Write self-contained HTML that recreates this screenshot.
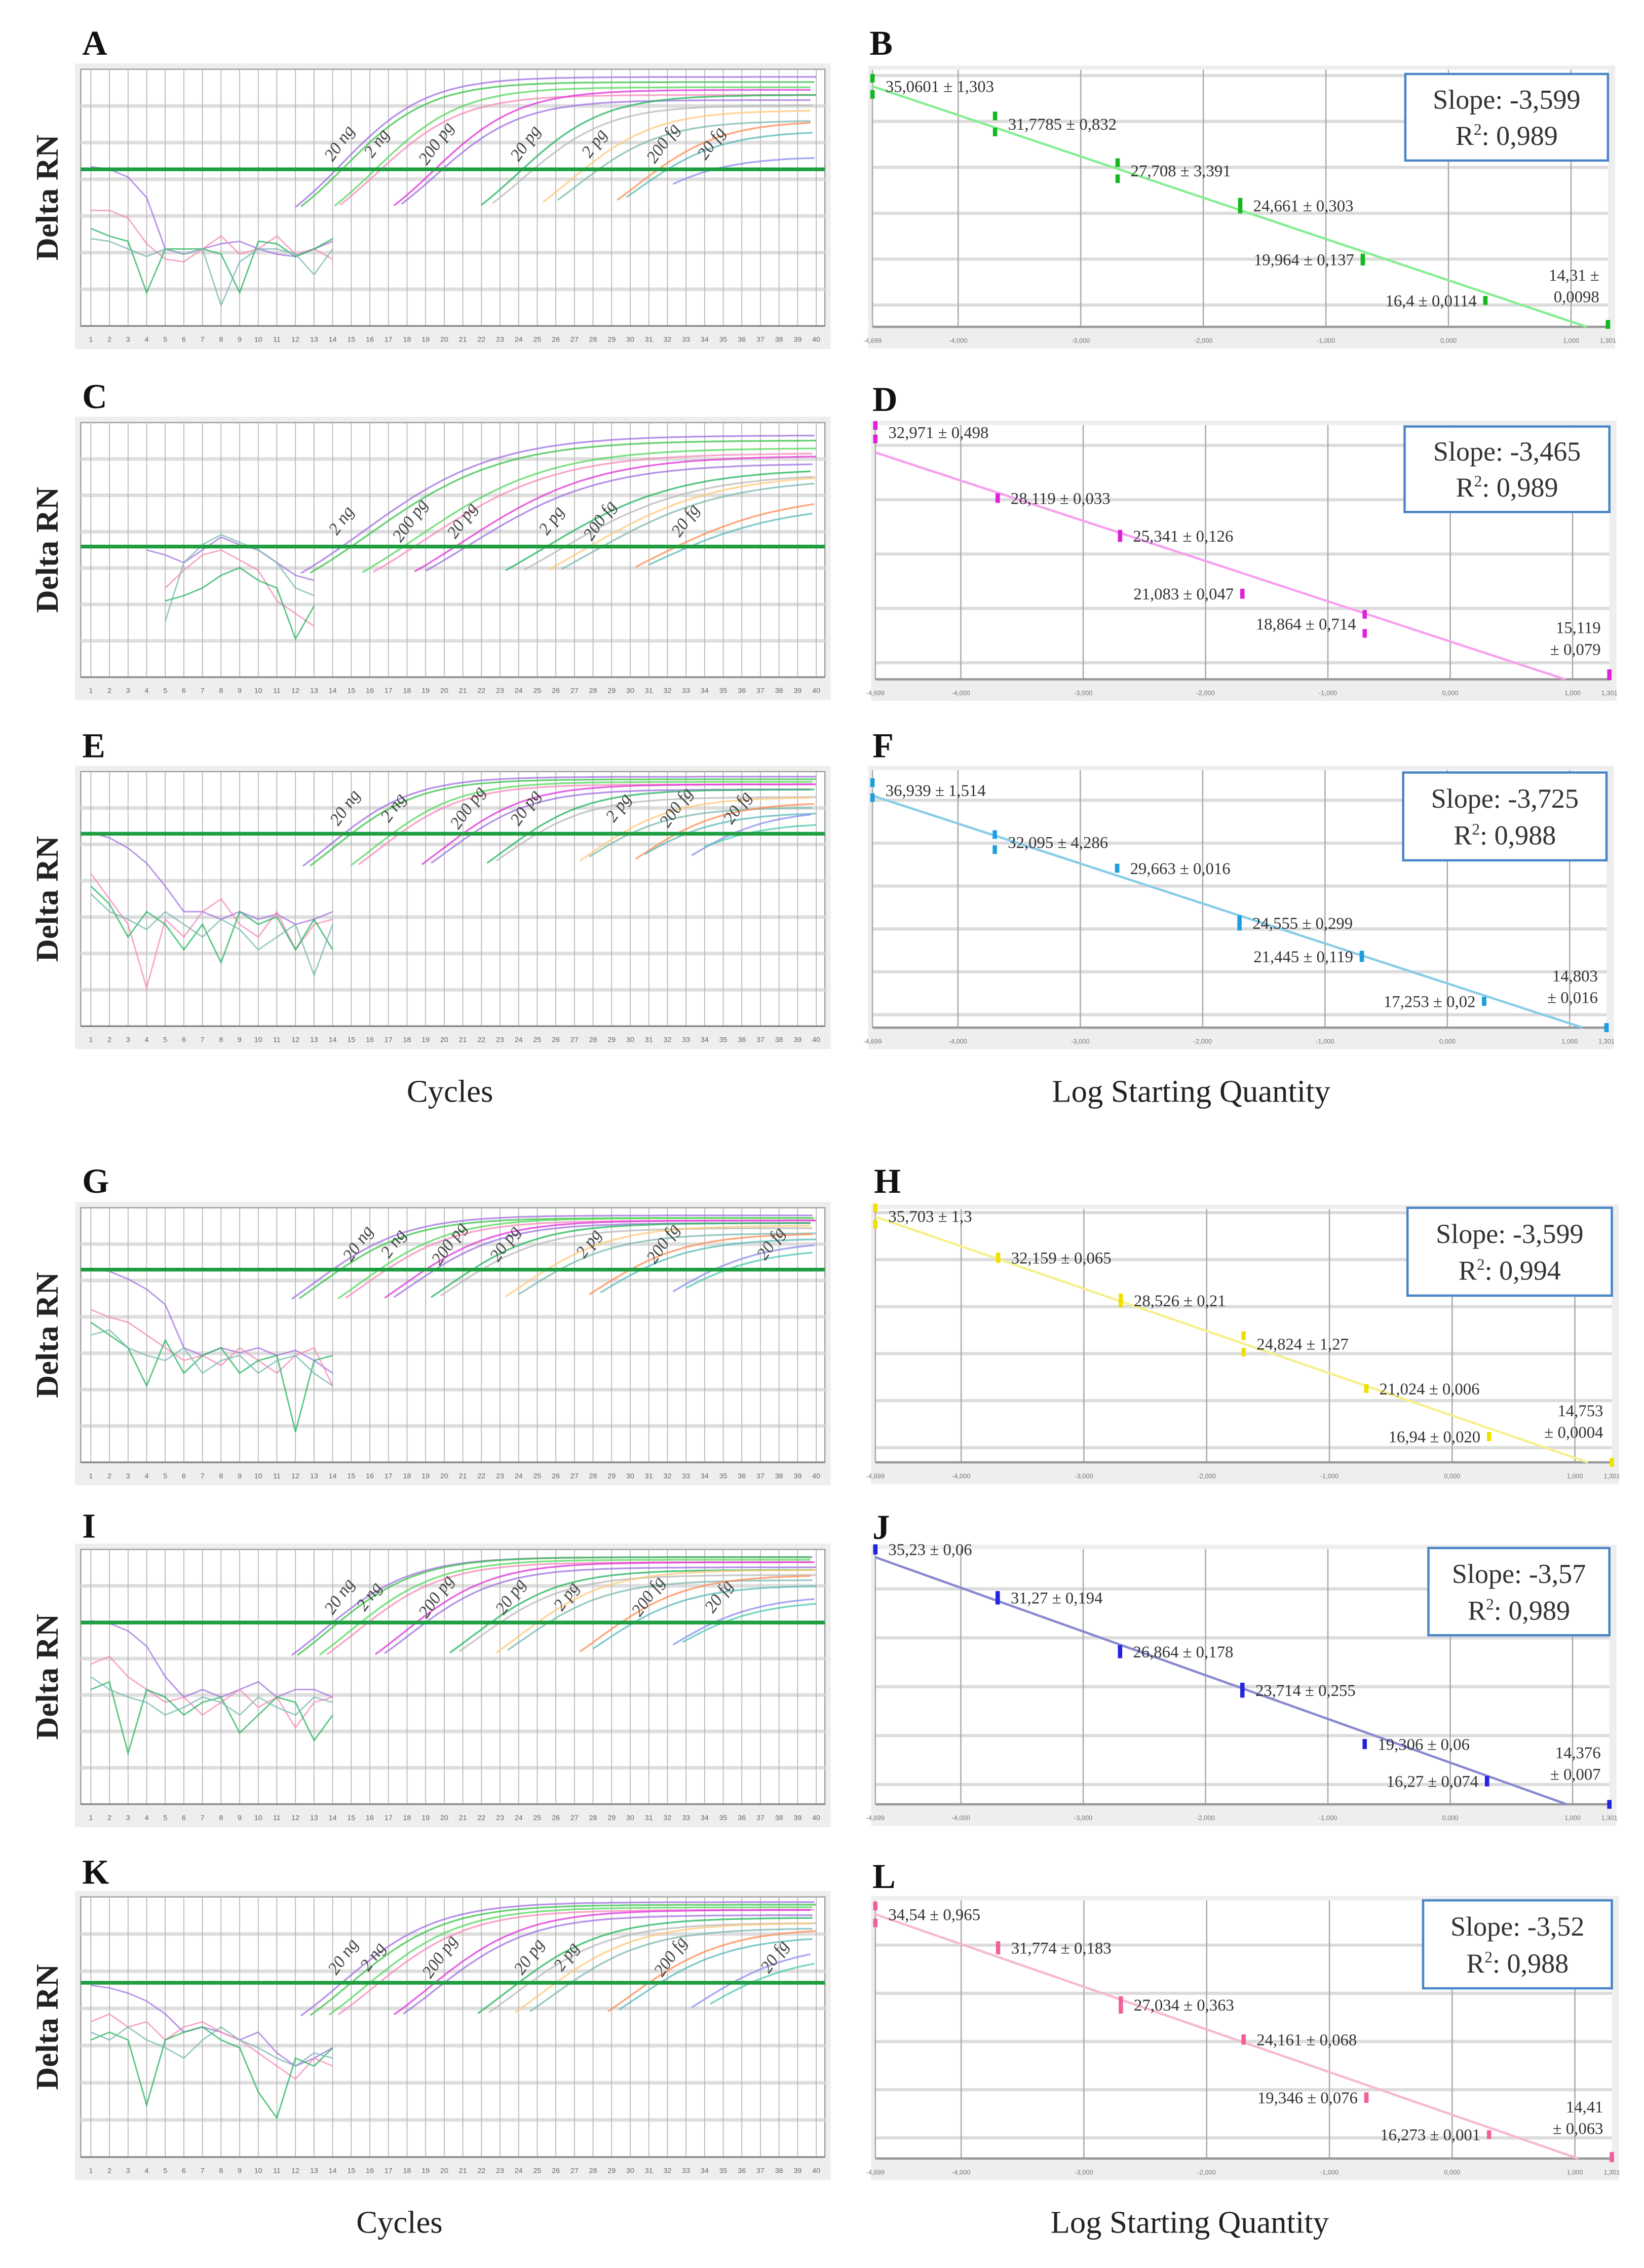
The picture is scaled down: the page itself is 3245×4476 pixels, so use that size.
<!DOCTYPE html>
<html><head><meta charset="utf-8"><style>
html,body{margin:0;padding:0;background:#fff}
svg{display:block}
</style></head><body>
<svg id="fig" xmlns="http://www.w3.org/2000/svg" width="3245" height="4476" viewBox="0 0 1140 1572.5" preserveAspectRatio="none" font-family="Liberation Serif, serif"></svg>
<script>
// ---------- amplification plot data (relative fluorescence 0..1, cycles 1..40) ----------
const dilutionLabels = ["20 ng","2 ng","200 pg","20 pg","2 pg","200 fg","20 fg"];
const A_ct = [14.2,14.5,16.3,16.6,19.5,19.9,24.2,24.8,27.5,28.3,31.5,32,34.5,35.5];
const A_plat = [0.97,0.95,0.93,0.9,0.92,0.88,0.9,0.86,0.84,0.8,0.8,0.76,0.66,0.6];
const A_labelCt = [14.6,16.6,19.8,24.6,28.3,32,34.6];
const A_base = [[0.62,0.61,0.58,0.5,0.3,0.28,0.3,0.32,0.33,0.3,0.28,0.27,0.3,0.33],[0.45,0.45,0.42,0.32,0.26,0.25,0.3,0.35,0.28,0.3,0.35,0.28,0.3,0.26],[0.38,0.35,0.33,0.13,0.3,0.3,0.3,0.28,0.13,0.33,0.32,0.27,0.3,0.34],[0.34,0.33,0.3,0.27,0.3,0.28,0.3,0.08,0.25,0.3,0.3,0.28,0.2,0.3]];

const C_ct = [14.5,15,17.8,18.4,20.6,21.2,25.5,26.5,27.8,28.5,32.5,33.2];
const C_plat = [0.95,0.93,0.9,0.88,0.87,0.84,0.82,0.8,0.8,0.78,0.72,0.68];
const C_labelCt = [null,14.7,18.4,21.2,26,28.6,33.2];
const C_base = [[null,null,null,0.5,0.48,0.45,0.5,0.55,0.52,0.5,0.45,0.4,0.38],[null,null,null,null,0.35,0.42,0.48,0.5,0.46,0.42,0.3,0.25,0.2],[null,null,null,null,0.3,0.32,0.35,0.4,0.43,0.38,0.35,0.15,0.28],[null,null,null,null,0.22,0.45,0.52,0.56,0.53,0.5,0.45,0.35,0.32]];

const E_ct = [14.6,15,17.2,17.6,21,21.5,24.5,25,29.5,30,32.5,33,35.5,36.2];
const E_plat = [0.98,0.97,0.96,0.95,0.95,0.93,0.93,0.9,0.9,0.86,0.88,0.84,0.85,0.8];
const E_labelCt = [14.9,17.5,21.5,24.6,29.6,32.7,36];
const E_base = [[0.76,0.74,0.7,0.64,0.55,0.45,0.45,0.42,0.45,0.42,0.44,0.4,0.42,0.45],[0.6,0.5,0.4,0.15,0.42,0.35,0.45,0.5,0.4,0.35,0.45,0.3,0.4,0.42],[0.55,0.48,0.35,0.45,0.4,0.3,0.4,0.25,0.45,0.4,0.43,0.3,0.42,0.3],[0.52,0.45,0.42,0.38,0.45,0.4,0.35,0.42,0.38,0.3,0.35,0.4,0.2,0.4]];

const G_ct = [14,14.4,16.5,16.9,19,19.5,21.5,22,25.5,26.2,30,30.6,34.5,35.2];
const G_plat = [0.97,0.96,0.96,0.95,0.95,0.94,0.94,0.92,0.93,0.9,0.9,0.88,0.87,0.84];
const G_labelCt = [15.6,17.5,20.5,23.5,28,32,37.8];
const G_base = [[0.76,0.75,0.72,0.68,0.62,0.45,0.42,0.45,0.43,0.45,0.42,0.44,0.4,0.35],[0.6,0.57,0.55,0.5,0.45,0.4,0.42,0.38,0.45,0.4,0.35,0.42,0.45,0.3],[0.55,0.5,0.45,0.3,0.48,0.35,0.42,0.45,0.35,0.4,0.42,0.12,0.4,0.42],[0.5,0.52,0.45,0.42,0.4,0.45,0.35,0.4,0.42,0.35,0.4,0.42,0.35,0.3]];

const I_ct = [14,14.3,15.5,15.9,18.5,19,22.5,23,25,25.6,29.5,30.2,34.5,35];
const I_plat = [0.97,0.97,0.96,0.95,0.95,0.93,0.92,0.9,0.92,0.88,0.9,0.86,0.82,0.8];
const I_labelCt = [14.6,16.2,19.8,23.8,26.8,31.2,35];
const I_base = [[0.72,0.71,0.68,0.62,0.5,0.42,0.45,0.42,0.45,0.48,0.42,0.45,0.45,0.42],[0.55,0.58,0.5,0.45,0.4,0.42,0.35,0.4,0.45,0.38,0.42,0.3,0.4,0.42],[0.45,0.48,0.2,0.45,0.42,0.35,0.4,0.42,0.28,0.35,0.42,0.4,0.25,0.35],[0.5,0.45,0.42,0.4,0.35,0.38,0.42,0.4,0.35,0.42,0.38,0.35,0.42,0.4]];

const K_ct = [14.5,15,16,16.5,19.5,20,24,24.6,26,26.8,31,31.6,35.5,36.5];
const K_plat = [0.98,0.97,0.96,0.95,0.95,0.93,0.92,0.9,0.9,0.88,0.88,0.85,0.82,0.78];
const K_labelCt = [14.8,16.4,20,24.8,26.8,32.4,38];
const K_base = [[0.66,0.65,0.63,0.6,0.55,0.48,0.5,0.48,0.45,0.48,0.4,0.35,0.38,0.42],[0.52,0.55,0.5,0.52,0.45,0.5,0.52,0.48,0.45,0.4,0.35,0.3,0.38,0.35],[0.45,0.48,0.45,0.2,0.45,0.48,0.5,0.45,0.42,0.25,0.15,0.38,0.35,0.42],[0.48,0.45,0.5,0.45,0.42,0.38,0.45,0.5,0.45,0.42,0.38,0.35,0.4,0.38]];

const ampColors = ["#a070e0","#39c24a","#52d85a","#f58ab8","#e030d8","#a070e0","#23b45c","#b8b8b8","#ffc878","#7ab8b0","#ff8a50","#58b8b8","#8a8af0","#4cc8b0"];

// ---------- standard curve data (Ct vs log starting quantity) ----------
const logQty = [-4.699,-3.699,-2.699,-1.699,-0.699,0.301,1.301];
const xTickVals = [-4.699,-4,-3,-2,-1,0,1,1.301];
const xTickLabels = ["-4,699","-4,000","-3,000","-2,000","-1,000","0,000","1,000","1,301"];
const B_mean = [35.0601,31.7785,27.708,24.661,19.964,16.4,14.31];
const B_sd = [1.303,0.832,3.391,0.303,0.137,0.0114,0.0098];
const B_text = ["35,0601 ± 1,303","31,7785 ± 0,832","27,708 ± 3,391","24,661 ± 0,303","19,964 ± 0,137","16,4 ± 0,0114","14,31 ±|0,0098"];
const B_side = ["r","r","r","r","l","l","s"];
const D_mean = [32.971,28.119,25.341,21.083,18.864,15.119];
const D_sd = [0.498,0.033,0.126,0.047,0.714,0.079];
const D_x = [-4.699,-3.699,-2.699,-1.699,-0.699,1.301];
const D_text = ["32,971 ± 0,498","28,119 ± 0,033","25,341 ± 0,126","21,083 ± 0,047","18,864 ± 0,714","15,119|± 0,079"];
const D_side = ["r","r","r","l","l","s"];
const F_mean = [36.939,32.095,29.663,24.555,21.445,17.253,14.803];
const F_sd = [1.514,4.286,0.016,0.299,0.119,0.02,0.016];
const F_text = ["36,939 ± 1,514","32,095 ± 4,286","29,663 ± 0,016","24,555 ± 0,299","21,445 ± 0,119","17,253 ± 0,02","14,803|± 0,016"];
const F_side = ["r","r","r","r","l","l","s"];
const H_mean = [35.703,32.159,28.526,24.824,21.024,16.94,14.753];
const H_sd = [1.3,0.065,0.21,1.27,0.006,0.02,0.0004];
const H_text = ["35,703 ± 1,3","32,159 ± 0,065","28,526 ± 0,21","24,824 ± 1,27","21,024 ± 0,006","16,94 ± 0,020","14,753|± 0,0004"];
const H_side = ["r","r","r","r","r","l","s"];
const J_mean = [35.23,31.27,26.864,23.714,19.306,16.27,14.376];
const J_sd = [0.06,0.194,0.178,0.255,0.06,0.074,0.007];
const J_text = ["35,23 ± 0,06","31,27 ± 0,194","26,864 ± 0,178","23,714 ± 0,255","19,306 ± 0,06","16,27 ± 0,074","14,376|± 0,007"];
const J_side = ["r","r","r","r","r","l","s"];
const L_mean = [34.54,31.774,27.034,24.161,19.346,16.273,14.41];
const L_sd = [0.965,0.183,0.363,0.068,0.076,0.001,0.063];
const L_text = ["34,54 ± 0,965","31,774 ± 0,183","27,034 ± 0,363","24,161 ± 0,068","19,346 ± 0,076","16,273 ± 0,001","14,41|± 0,063"];
const L_side = ["r","r","r","r","l","l","s"];
const slopeText = ["-3,599","-3,465","-3,725","-3,599","-3,57","-3,52"];
const r2Text = ["0,989","0,989","0,988","0,994","0,989","0,988"];

// ---------- drawing ----------
const NS="http://www.w3.org/2000/svg";
const svg=document.getElementById('fig');
function el(tag,attrs,parent){const e=document.createElementNS(NS,tag);for(const k in attrs)e.setAttribute(k,attrs[k]);(parent||svg).appendChild(e);return e;}
function txt(s,attrs,parent){const e=el('text',attrs,parent);e.textContent=s;return e;}

function panelLetter(ch,x,y){
  const t=txt(ch,{x:x,y:y,'font-size':24,'font-weight':'bold',fill:'#111'});
  
  
}

function drawAmp(id,top,bottom,thr,s,cts,plats,labelCts,bases){
  const g=el('g',{});
  
  
  const X0=56,X1=572;
  const cx=c=>63+(c-1)*(566-63)/39;
  const fy=f=>bottom-f*(bottom-top);
  el('rect',{x:X0-4,y:top-4,width:X1-X0+8,height:bottom-top+20,fill:'#eeeeee'},g);
  el('rect',{x:X0,y:top,width:X1-X0,height:bottom-top,fill:'#fff',stroke:'#999','stroke-width':0.8},g);
  for(let k=1;k<=6;k++){const y=top+k*(bottom-top)/7;el('line',{x1:X0,x2:X1,y1:y,y2:y,stroke:'#dedede','stroke-width':2.5},g);}
  for(let c=1;c<=40;c++){el('line',{x1:cx(c),x2:cx(c),y1:top,y2:bottom,stroke:'#b5b5b5','stroke-width':0.6},g);}
  el('line',{x1:X0,x2:X1,y1:bottom,y2:bottom,stroke:'#888','stroke-width':1.2},g);
  for(let c=1;c<=40;c++){const t=txt(String(c),{x:cx(c),y:bottom+11,'font-size':5,'text-anchor':'middle',fill:'#666','font-family':'Liberation Sans, sans-serif'},g);
    }
  bases.forEach((arr,i)=>{
    let pts=[];arr.forEach((v,j)=>{if(v!==null)pts.push(cx(j+1).toFixed(1)+','+fy(v).toFixed(1));});
    const p=el('polyline',{points:pts.join(' '),fill:'none',stroke:ampColors[(i*3)%ampColors.length],'stroke-width':1,opacity:0.75},g);
    
  });
  cts.forEach((ct,i)=>{
    const plat=plats[i];const b0=Math.max(0.08,thr-0.32);
    const mid=ct+s*Math.log((plat-b0)/(thr-b0)-1);
    const val=c=>b0+(plat-b0)/(1+Math.exp(-(c-mid)/s));
    let pts=[];
    for(let c=Math.max(1,ct-2.2);c<=40.001;c+=0.4){pts.push(cx(c).toFixed(1)+','+fy(val(c)).toFixed(1));}
    const p=el('polyline',{points:pts.join(' '),fill:'none',stroke:ampColors[i%ampColors.length],'stroke-width':1.2,opacity:0.75},g);
    
  });
  const th=el('line',{x1:X0,x2:X1,y1:fy(thr),y2:fy(thr),stroke:'#1e9e40','stroke-width':2.6},g);
  
  labelCts.forEach((lc,i)=>{
    if(lc===null)return;
    const x=cx(lc),y=fy(thr)-16;
    const t=txt(dilutionLabels[i],{x:x,y:y,'font-size':12,'font-style':'italic',fill:'#444','text-anchor':'middle',transform:`rotate(-55 ${x} ${y})`},g);
    
  });
  const yl=txt('Delta RN',{x:40,y:(top+bottom)/2,'font-size':22,'font-weight':'bold','text-anchor':'middle',fill:'#222',transform:`rotate(-90 40 ${(top+bottom)/2})`},g);
  
}

function drawStd(id,top,bottom,xl,xr,yLo,yHi,xs,means,sds,texts,sides,ptCol,lineCol,idx,box){
  const g=el('g',{});
  
  
  const sx=l=>xl+(l+4.699)/6*(xr-xl);
  const sy=v=>bottom-(v-yLo)/(yHi-yLo)*(bottom-top);
  el('rect',{x:xl-3,y:top-3,width:xr-xl+8,height:bottom-top+18,fill:'#eeeeee'},g);
  el('rect',{x:xl,y:top,width:xr-xl,height:bottom-top,fill:'#fff'},g);
  for(let v=16;v<=yHi;v+=4){if(v<yLo)continue;el('line',{x1:xl,x2:xr,y1:sy(v),y2:sy(v),stroke:'#dcdcdc','stroke-width':2.2},g);}
  for(let l=-4;l<=1;l++){el('line',{x1:sx(l),x2:sx(l),y1:top,y2:bottom,stroke:'#aaa','stroke-width':0.9},g);}
  el('line',{x1:xl,x2:xl,y1:top,y2:bottom,stroke:'#aaa','stroke-width':0.9},g);
  el('line',{x1:xl,x2:xr,y1:bottom,y2:bottom,stroke:'#999','stroke-width':1.6},g);
  xTickVals.forEach((v,i)=>{const t=txt(xTickLabels[i],{x:sx(v),y:bottom+11,'font-size':4.5,'text-anchor':'middle',fill:'#777','font-family':'Liberation Sans, sans-serif'},g);
    });
  const n=xs.length;let mx=0,my=0;xs.forEach((x,i)=>{mx+=x;my+=means[i];});mx/=n;my/=n;
  let sxy=0,sxx=0;xs.forEach((x,i)=>{sxy+=(x-mx)*(means[i]-my);sxx+=(x-mx)*(x-mx);});
  const b=sxy/sxx,a=my-b*mx;
  let xEnd=1.301;const yEndV=a+b*xEnd;if(yEndV<yLo){xEnd=(yLo-a)/b;}
  const rl=el('line',{x1:sx(-4.699),y1:sy(a+b*-4.699),x2:sx(xEnd),y2:sy(a+b*xEnd),stroke:lineCol,'stroke-width':1.6},g);
  
  xs.forEach((x,i)=>{
    const d=Math.min(sds[i],0.7);
    [means[i]-d,means[i]+d].forEach(v=>{
      const r=el('rect',{x:sx(x)-1.5,y:sy(v)-3,width:3,height:6,fill:ptCol},g);
      
    });
    const px=sx(x),py=sy(means[i]);
    let t;
    if(sides[i]==='r'){t=txt(texts[i],{x:px+9,y:py+4,'font-size':11.5,fill:'#333'},g);}
    else if(sides[i]==='l'){t=txt(texts[i],{x:px-6,y:py+4,'font-size':11.5,fill:'#333','text-anchor':'end'},g);}
    else{const parts=texts[i].split('|');t=el('text',{'font-size':11.5,fill:'#333','text-anchor':'end'},g);
      parts.forEach((pt,k)=>{const ts=el('tspan',{x:xr-6,y:bottom-32+k*15},t);ts.textContent=pt;});}
    
  });
  const bx=el('g',{},g);
  el('rect',{x:box[0],y:box[1],width:box[2]-box[0],height:box[3]-box[1],fill:'#fff',stroke:'#4a86c5','stroke-width':1.6},bx);
  const cxm=(box[0]+box[2])/2,h=box[3]-box[1];
  txt('Slope: '+slopeText[idx],{x:cxm,y:box[1]+h*0.4,'font-size':19,'text-anchor':'middle',fill:'#333'},bx);
  const r=el('text',{x:cxm,y:box[1]+h*0.82,'font-size':19,'text-anchor':'middle',fill:'#333'},bx);
  r.textContent='R';const sup=el('tspan',{'font-size':11,dy:-7},r);sup.textContent='2';
  const rest=el('tspan',{dy:7},r);rest.textContent=':  '+r2Text[idx];
}

panelLetter('A',57,38);panelLetter('B',603,38);
drawAmp('A',48,226,0.61,2.3,A_ct,A_plat,A_labelCt,A_base);
drawStd('B',48.4,226.6,605,1115,14.1,36.5,logQty,B_mean,B_sd,B_text,B_side,'#12b81e','#86ee92',0,[974.5,51.3,1115,111.3]);

panelLetter('C',57,283);panelLetter('D',605,285);
drawAmp('C',293,469.5,0.513,3.6,C_ct,C_plat,C_labelCt,C_base);
drawStd('D',294.7,471,607,1116,14.78,33.5,D_x,D_mean,D_sd,D_text,D_side,'#e020d8','#f7a0f0',1,[974,295.7,1116,355]);

panelLetter('E',57,525);panelLetter('F',605,525);
drawAmp('E',535,711.5,0.756,2.3,E_ct,E_plat,E_labelCt,E_base);
drawStd('F',534,712.5,605,1114,14.8,38.8,logQty,F_mean,F_sd,F_text,F_side,'#1a9ee0','#88cce8',2,[973,535.6,1114,596.5]);

const c1=txt('Cycles',{x:312,y:764,'font-size':22,'text-anchor':'middle',fill:'#222'});

const q1=txt('Log Starting Quantity',{x:826,y:764,'font-size':22,'text-anchor':'middle',fill:'#222'});


panelLetter('G',57,827);panelLetter('H',606,827);
drawAmp('G',837.4,1013.9,0.757,2.5,G_ct,G_plat,G_labelCt,G_base);
drawStd('H',838.3,1013.9,607,1117.7,14.75,36.3,logQty,H_mean,H_sd,H_text,H_side,'#f0e000','#f5f08c',3,[976,837.4,1117.7,898.3]);

panelLetter('I',57,1066);panelLetter('J',605,1067);
drawAmp('I',1074.3,1250.9,0.713,2.4,I_ct,I_plat,I_labelCt,I_base);
drawStd('J',1074,1251,607,1116,14.38,35.26,logQty,J_mean,J_sd,J_text,J_side,'#2323e0','#8888d4',4,[990.5,1073.3,1116,1133.8]);

panelLetter('K',57,1306);panelLetter('L',605,1309);
drawAmp('K',1315.2,1495.6,0.67,2.6,K_ct,K_plat,K_labelCt,K_base);
drawStd('L',1317.6,1496.6,607,1117.7,14.29,35.71,logQty,L_mean,L_sd,L_text,L_side,'#f0609a','#f7b8d2',5,[986.8,1317.6,1117.7,1378.6]);

const c2=txt('Cycles',{x:277,y:1548,'font-size':22,'text-anchor':'middle',fill:'#222'});

const q2=txt('Log Starting Quantity',{x:825,y:1548,'font-size':22,'text-anchor':'middle',fill:'#222'});

</script>
</body></html>
